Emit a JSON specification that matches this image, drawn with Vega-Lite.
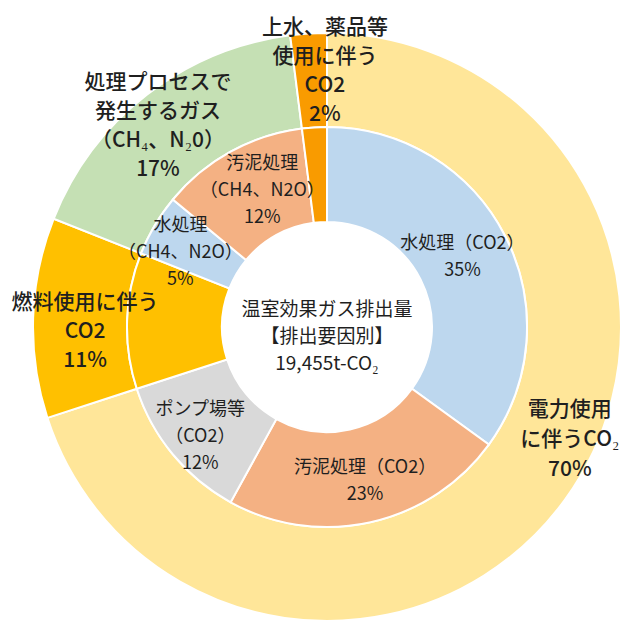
{
  "$schema": "https://vega.github.io/schema/vega-lite/v6.json",
  "width": 600,
  "height": 590,
  "padding": {"left": 27, "top": 32, "right": 0, "bottom": 0},
  "autosize": "none",
  "background": "white",
  "config": {"view": {"stroke": null}, "text": {"font": "Noto Sans CJK JP", "color": "#1f1f1f"}},
  "datasets": {
    "outer": [
      {"idx": 1, "cat": "電力", "value": 70, "label": "電力使用\nに伴うCO₂\n70%"},
      {"idx": 2, "cat": "燃料", "value": 11, "label": "燃料使用に伴う\nCO2\n11%"},
      {"idx": 3, "cat": "処理ガス", "value": 17, "label": "処理プロセスで\n発生するガス\n（CH₄、N₂0）\n17%"},
      {"idx": 4, "cat": "上水", "value": 2, "label": "上水、薬品等\n使用に伴う\nCO2\n2%"}
    ],
    "inner": [
      {"idx": 1, "cat": "水処理CO2", "value": 35, "label": "水処理（CO2）\n35%"},
      {"idx": 2, "cat": "汚泥CO2", "value": 23, "label": "汚泥処理（CO2）\n23%"},
      {"idx": 3, "cat": "ポンプ", "value": 12, "label": "ポンプ場等\n（CO2）\n12%"},
      {"idx": 4, "cat": "燃料", "value": 11, "label": ""},
      {"idx": 5, "cat": "水処理CH4", "value": 5, "label": "水処理\n（CH4、N2O）\n5%"},
      {"idx": 6, "cat": "汚泥CH4", "value": 12, "label": "汚泥処理\n（CH4、N2O）\n12%"},
      {"idx": 7, "cat": "上水", "value": 2, "label": ""}
    ],
    "center": [
      {"label": "温室効果ガス排出量\n【排出要因別】\n19,455t-CO₂"}
    ]
  },
  "layer": [
    {
      "data": {"name": "outer"},
      "mark": {"type": "arc", "outerRadius": 294, "innerRadius": 200, "stroke": "white", "strokeWidth": 2},
      "encoding": {
        "theta": {"field": "value", "type": "quantitative", "stack": true},
        "order": {"field": "idx", "type": "quantitative"},
        "color": {
          "field": "cat", "type": "nominal", "legend": null,
          "scale": {
            "domain": ["電力", "燃料", "処理ガス", "上水", "水処理CO2", "汚泥CO2", "ポンプ", "水処理CH4", "汚泥CH4"],
            "range": ["#FFE699", "#FFC000", "#C5E0B4", "#F99B00", "#BDD7EE", "#F4B183", "#D9D9D9", "#BDD7EE", "#F4B183"]
          }
        }
      }
    },
    {
      "data": {"name": "inner"},
      "mark": {"type": "arc", "outerRadius": 200, "innerRadius": 105, "stroke": "white", "strokeWidth": 2},
      "encoding": {
        "theta": {"field": "value", "type": "quantitative", "stack": true},
        "order": {"field": "idx", "type": "quantitative"},
        "color": {"field": "cat", "type": "nominal", "legend": null}
      }
    },
    {
      "data": {"name": "outer"},
      "mark": {"type": "text", "radius": 268, "dx": 26, "dy": -75, "fontSize": 21, "fontWeight": 500, "lineHeight": 30, "align": "center", "baseline": "middle", "lineBreak": "\n"},
      "encoding": {
        "theta": {"field": "value", "type": "quantitative", "stack": true},
        "order": {"field": "idx", "type": "quantitative"},
        "detail": {"field": "cat"},
        "text": {"condition": {"test": "datum.cat === '電力'", "field": "label"}, "value": ""}
      }
    },
    {
      "data": {"name": "outer"},
      "mark": {"type": "text", "radius": 242, "dx": 0, "dy": -16, "fontSize": 21, "fontWeight": 500, "lineHeight": 29, "align": "center", "baseline": "middle", "lineBreak": "\n"},
      "encoding": {
        "theta": {"field": "value", "type": "quantitative", "stack": true},
        "order": {"field": "idx", "type": "quantitative"},
        "detail": {"field": "cat"},
        "text": {"condition": {"test": "datum.cat === '燃料'", "field": "label"}, "value": ""}
      }
    },
    {
      "data": {"name": "outer"},
      "mark": {"type": "text", "radius": 266, "dx": -6, "dy": -34, "fontSize": 21, "fontWeight": 500, "lineHeight": 29, "align": "center", "baseline": "middle", "lineBreak": "\n"},
      "encoding": {
        "theta": {"field": "value", "type": "quantitative", "stack": true},
        "order": {"field": "idx", "type": "quantitative"},
        "detail": {"field": "cat"},
        "text": {"condition": {"test": "datum.cat === '処理ガス'", "field": "label"}, "value": ""}
      }
    },
    {
      "data": {"name": "outer"},
      "mark": {"type": "text", "radius": 256, "dx": 14, "dy": -44, "fontSize": 21, "fontWeight": 500, "lineHeight": 29, "align": "center", "baseline": "middle", "lineBreak": "\n"},
      "encoding": {
        "theta": {"field": "value", "type": "quantitative", "stack": true},
        "order": {"field": "idx", "type": "quantitative"},
        "detail": {"field": "cat"},
        "text": {"condition": {"test": "datum.cat === '上水'", "field": "label"}, "value": ""}
      }
    },
    {
      "data": {"name": "inner"},
      "mark": {"type": "text", "radius": 152, "dx": 0, "dy": -14, "fontSize": 18, "lineHeight": 27, "align": "center", "baseline": "middle", "lineBreak": "\n"},
      "encoding": {
        "theta": {"field": "value", "type": "quantitative", "stack": true},
        "order": {"field": "idx", "type": "quantitative"},
        "detail": {"field": "cat"},
        "text": {"condition": {"test": "datum.cat === '水処理CO2'", "field": "label"}, "value": ""}
      }
    },
    {
      "data": {"name": "inner"},
      "mark": {"type": "text", "radius": 156, "dx": 4, "dy": -11, "fontSize": 18, "lineHeight": 27, "align": "center", "baseline": "middle", "lineBreak": "\n"},
      "encoding": {
        "theta": {"field": "value", "type": "quantitative", "stack": true},
        "order": {"field": "idx", "type": "quantitative"},
        "detail": {"field": "cat"},
        "text": {"condition": {"test": "datum.cat === '汚泥CO2'", "field": "label"}, "value": ""}
      }
    },
    {
      "data": {"name": "inner"},
      "mark": {"type": "text", "radius": 167, "dx": 2, "dy": -23, "fontSize": 18, "lineHeight": 27, "align": "center", "baseline": "middle", "lineBreak": "\n"},
      "encoding": {
        "theta": {"field": "value", "type": "quantitative", "stack": true},
        "order": {"field": "idx", "type": "quantitative"},
        "detail": {"field": "cat"},
        "text": {"condition": {"test": "datum.cat === 'ポンプ'", "field": "label"}, "value": ""}
      }
    },
    {
      "data": {"name": "inner"},
      "mark": {"type": "text", "radius": 168, "dx": -2, "dy": -15, "fontSize": 18, "lineHeight": 27, "align": "center", "baseline": "middle", "lineBreak": "\n"},
      "encoding": {
        "theta": {"field": "value", "type": "quantitative", "stack": true},
        "order": {"field": "idx", "type": "quantitative"},
        "detail": {"field": "cat"},
        "text": {"condition": {"test": "datum.cat === '水処理CH4'", "field": "label"}, "value": ""}
      }
    },
    {
      "data": {"name": "inner"},
      "mark": {"type": "text", "radius": 153, "dx": 9, "dy": -29, "fontSize": 18, "lineHeight": 27, "align": "center", "baseline": "middle", "lineBreak": "\n"},
      "encoding": {
        "theta": {"field": "value", "type": "quantitative", "stack": true},
        "order": {"field": "idx", "type": "quantitative"},
        "detail": {"field": "cat"},
        "text": {"condition": {"test": "datum.cat === '汚泥CH4'", "field": "label"}, "value": ""}
      }
    },
    {
      "data": {"name": "center"},
      "mark": {"type": "text", "dy": -17, "fontSize": 19, "lineHeight": 27, "align": "center", "baseline": "middle", "lineBreak": "\n"},
      "encoding": {
        "text": {"field": "label"}
      }
    }
  ]
}
